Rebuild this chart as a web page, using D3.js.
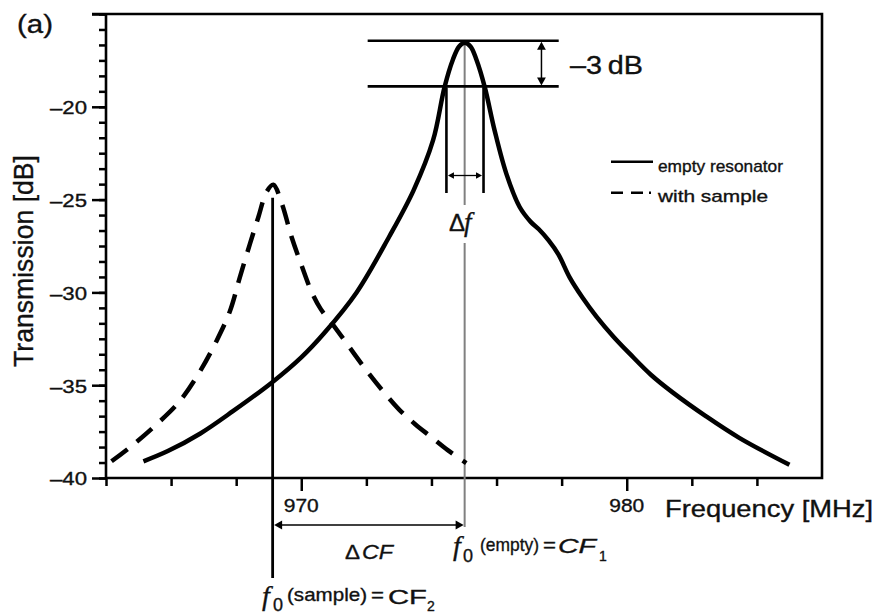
<!DOCTYPE html>
<html><head><meta charset="utf-8">
<script src="https://cdn.jsdelivr.net/npm/d3@7"></script>
<style>
html,body{margin:0;padding:0;background:#fff;}
svg{display:block;}
</style></head>
<body>
<svg id="chart" width="874" height="615"></svg>
<script>
// ---------------- data ----------------
const emptyFreq = [965.15,965.9,966.9,967.9,969.1,970.0,970.7,971.7,972.7,973.45,974.05,974.4,974.66,974.85,975.02,975.2,975.38,975.64,975.94,976.3,976.71,977.05,977.3,977.6,977.9,978.25,978.65,979.07,979.6,980.09,980.75,981.42,982.44,983.47,985.0];
const emptyDb   = [-39.1,-38.55,-37.6,-36.4,-34.85,-33.5,-32.2,-30.0,-27.0,-24.5,-21.8,-18.95,-17.45,-16.75,-16.55,-16.75,-17.45,-18.95,-21.27,-23.6,-25.4,-26.2,-26.6,-27.2,-27.95,-29.2,-30.3,-31.3,-32.4,-33.3,-34.45,-35.4,-36.68,-37.85,-39.29];
const sampleFreq = [964.17,964.84,965.56,966.27,966.89,967.4,967.81,968.11,968.42,968.68,968.93,969.14,969.4,969.7,970.0,970.3,970.6,971.0,971.5,972.0,972.5,973.0,973.5,974.0,974.5,975.07];
const sampleDb   = [-39.1,-38.2,-37.1,-35.85,-34.25,-32.6,-31.0,-29.2,-27.4,-25.95,-24.6,-24.2,-25.2,-27.0,-28.5,-29.9,-30.9,-31.8,-33.0,-34.2,-35.3,-36.3,-37.1,-37.8,-38.5,-39.2];
const yMajorTicks = [-40,-35,-30,-25,-20,-15];
const yTickLabels = ["\u201340","\u201335","\u201330","\u201325","\u201320",""];
const xTicks = [964,966,968,970,972,974,976,978,980,982,984];
const xTickLabels = [970,980];
const seriesNames = ["empty resonator","with sample"];

// annotation values (data units)
const f0Empty = 975.02, f0Sample = 969.12;
const peakEmpty = -16.55, halfPower = -18.9, peakSample = -24.2;
const dfLeft = 974.46, dfRight = 975.6;

// ---------------- setup ----------------
const svg = d3.select("#chart");
const sans = "'Liberation Sans', Arial, Helvetica, sans-serif";
const serif = "'Liberation Serif', 'Times New Roman', serif";
const L = 106, R = 822, T = 14, B = 478;
const x = d3.scaleLinear().domain([964, 986]).range([L, R]);
const y = d3.scaleLinear().domain([-40, -15]).range([B, T]);

function txt(px, py, s, o = {}) {
  const t = svg.append("text").attr("x", px).attr("y", py).text(s)
    .attr("font-family", o.family || sans)
    .attr("font-size", o.size || 18)
    .attr("fill", "#111").attr("stroke", "#111").attr("stroke-width", 0.35)
    .attr("text-anchor", o.anchor || "start");
  if (o.italic) t.attr("font-style", "italic");
  if (o.len) t.attr("textLength", o.len).attr("lengthAdjust", "spacingAndGlyphs");
  if (o.transform) t.attr("transform", o.transform);
  return t;
}
function seg(x1, y1, x2, y2, w, c) {
  svg.append("line").attr("x1", x1).attr("y1", y1).attr("x2", x2).attr("y2", y2)
    .attr("stroke", c || "#000").attr("stroke-width", w);
}
function head(px, py, dir, s) { // tip at (px,py)
  let p;
  if (dir === "up") p = [[px, py], [px - s * 0.55, py + s], [px + s * 0.55, py + s]];
  if (dir === "down") p = [[px, py], [px - s * 0.55, py - s], [px + s * 0.55, py - s]];
  if (dir === "left") p = [[px, py], [px + s, py - s * 0.55], [px + s, py + s * 0.55]];
  if (dir === "right") p = [[px, py], [px - s, py - s * 0.55], [px - s, py + s * 0.55]];
  svg.append("path").attr("d", "M" + p.map(d => d.join(",")).join("L") + "Z").attr("fill", "#000");
}

// ---------------- axes ----------------
const yMinor = [];
for (let i = 0; i <= 30; i++) yMinor.push(-40 + i * 5 / 6);
const yMinorAxis = d3.axisLeft(y).tickValues(yMinor).tickSize(7).tickFormat("");
const gYm = svg.append("g").attr("transform", `translate(${L},0)`).call(yMinorAxis);
gYm.select(".domain").remove();
gYm.selectAll("line").attr("stroke", "#000").attr("stroke-width", 2.5);

const yAxis = d3.axisLeft(y).tickValues(yMajorTicks).tickSize(14).tickPadding(5)
  .tickFormat((d, i) => yTickLabels[i]);
const gY = svg.append("g").attr("transform", `translate(${L},0)`).call(yAxis);
gY.select(".domain").remove();
gY.selectAll("line").attr("stroke", "#000").attr("stroke-width", 2.5);
gY.selectAll("text").attr("font-family", sans).attr("font-size", 19).attr("fill", "#111")
  .attr("stroke", "#111").attr("stroke-width", 0.35)
  .attr("dy", "0.36em")
  .each(function () { if (this.textContent) d3.select(this).attr("textLength", 37).attr("lengthAdjust", "spacingAndGlyphs"); });

const xAxis = d3.axisBottom(x).tickValues(xTicks).tickSizeInner(8).tickFormat("");
const gX = svg.append("g").attr("transform", `translate(0,${B})`).call(xAxis);
gX.select(".domain").remove();
gX.selectAll(".tick line").attr("stroke", "#000").attr("stroke-width", 2.5)
  .attr("y2", d => xTickLabels.includes(d) ? 13 : 8);
xTickLabels.forEach(v => txt(x(v), 512, String(v), { anchor: "middle", size: 19, len: 35 }));

// frame
svg.append("path")
  .attr("d", `M${L - 14},${T}H${R}V${B}H${L}V${T}`)
  .attr("fill", "none").attr("stroke", "#000").attr("stroke-width", 2.6)
  .attr("stroke-linejoin", "miter");

// axis titles
txt(665, 517, "Frequency [MHz]", { size: 24, len: 208 });
txt(0, 0, "Transmission [dB]", { size: 27, len: 212, anchor: "middle",
  transform: `translate(33,261) rotate(-90)` });
txt(17, 33, "(a)", { size: 26, len: 36 });

// ---------------- curves ----------------
const line = d3.line().x(d => x(d[0])).y(d => y(d[1])).curve(d3.curveCatmullRom.alpha(0.5));
const emptyData = emptyFreq.map((f, i) => [f, emptyDb[i]]);
const sampleData = sampleFreq.map((f, i) => [f, sampleDb[i]]);

// f0(empty) guide line (grey), broken behind the Δf label
seg(x(f0Empty), y(peakEmpty) + 1, x(f0Empty), 205, 2, "#808080");
seg(x(f0Empty), 243, x(f0Empty), 527, 2, "#808080");

svg.append("path").datum(sampleData).attr("d", line)
  .attr("fill", "none").attr("stroke", "#000").attr("stroke-width", 4.5)
  .attr("stroke-dasharray", "20,12");
svg.append("path").datum(emptyData).attr("d", line)
  .attr("fill", "none").attr("stroke", "#000").attr("stroke-width", 4.5)
  .attr("stroke-linejoin", "round");

// ---------------- annotations ----------------
const hx1 = x(972.04), hx2 = x(977.91);
seg(hx1, y(peakEmpty) - 2, hx2, y(peakEmpty) - 2, 2.6);
seg(hx1, y(halfPower), hx2, y(halfPower), 2.6);
const ax = x(977.38);
seg(ax, y(peakEmpty) + 6, ax, y(halfPower) - 6, 1.5);
head(ax, y(peakEmpty) - 1, "up", 8);
head(ax, y(halfPower) - 1, "down", 8);
txt(570, 74, "\u20133\u2009dB", { size: 26, len: 73 });

// Δf
const dyTop = y(halfPower) + 1, dyBot = 193;
seg(x(dfLeft), dyTop, x(dfLeft), dyBot, 2.6);
seg(x(dfRight), dyTop, x(dfRight), dyBot, 2.6);
seg(x(dfLeft) + 5, 175.5, x(dfRight) - 5, 175.5, 1.3);
head(x(dfLeft) + 1.5, 175.5, "left", 6);
head(x(dfRight) - 1.5, 175.5, "right", 6);
txt(449, 231, "\u0394", { size: 23, len: 16 });
txt(464, 231, "f", { size: 27, family: serif, italic: true });

// CF2 line (sample resonance)
seg(x(f0Sample), y(peakSample) + 13, x(f0Sample), 578, 2.8);

// ΔCF arrow
const cfY = 525;
seg(x(f0Sample) + 6, cfY, x(f0Empty) - 6, cfY, 1.4);
head(x(f0Sample) + 1.5, cfY, "left", 8);
head(x(f0Empty) - 1, cfY, "right", 8);
txt(345, 559, "\u0394", { size: 21, len: 15 });
txt(362, 559, "CF", { size: 21, italic: true, len: 31 });

// f0(empty) = CF1
txt(453, 555, "f", { size: 28, family: serif, italic: true });
txt(463, 562, "0", { size: 18 });
txt(480, 551, "(empty)", { size: 19, len: 59 });
txt(543, 551, "=", { size: 19, len: 13 });
txt(558, 553, "CF", { size: 21, italic: true, len: 38 });
txt(599, 561, "1", { size: 14 });

// f0(sample) = CF2
txt(262, 605, "f", { size: 28, family: serif, italic: true });
txt(273, 611, "0", { size: 18 });
txt(287, 601, "(sample)", { size: 19, len: 80 });
txt(371, 601, "=", { size: 19, len: 13 });
txt(388, 604, "CF", { size: 21, len: 39 });
txt(427, 611, "2", { size: 14 });

// ---------------- legend ----------------
seg(611, 161.7, 653, 161.7, 2.5);
txt(658, 172, seriesNames[0], { size: 17, len: 125 });
svg.append("line").attr("x1", 611).attr("y1", 192.7).attr("x2", 652).attr("y2", 192.7)
  .attr("stroke", "#000").attr("stroke-width", 2.5).attr("stroke-dasharray", "12,8,12,6,2,20");
txt(658, 202, seriesNames[1], { size: 17, len: 110 });
</script>
</body></html>
